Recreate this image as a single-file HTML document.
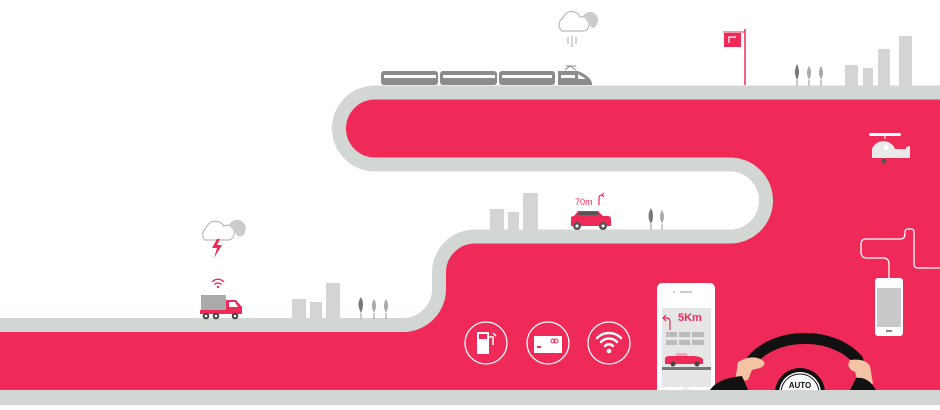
<!DOCTYPE html>
<html><head><meta charset="utf-8"><style>
html,body{margin:0;padding:0;background:#fff;}
svg{display:block;}
text{font-family:"Liberation Sans",sans-serif;}
</style></head><body>
<svg width="940" height="410" viewBox="0 0 940 410" xmlns="http://www.w3.org/2000/svg">
<rect x="0" y="0" width="940" height="392" fill="#ef2a58"/>
<path d="M-20,-20 H960 V92.5 H375 A36,36 0 0 0 375,164.5 H730 A36,36 0 0 1 730,236.5 H475 A36,36 0 0 0 439,272.5 V289 A36,36 0 0 1 403,325 H-20 Z" fill="#fff" stroke="#d3d7d3" stroke-width="14"/>

<!-- train -->
<g fill="#8c8c8e">
<rect x="381" y="71" width="57" height="14" rx="3"/>
<rect x="440" y="71" width="57" height="14" rx="3"/>
<rect x="499" y="71" width="56" height="14" rx="3"/>
<path d="M558,71 H578 Q590,76 592,83 V85 H558 Z"/>
<path d="M565,70 L570,66 L576,70 M566,66 H576" stroke="#8c8c8e" fill="none" stroke-width="1"/>
</g>
<g fill="#fff">
<rect x="384" y="75" width="52" height="3"/><rect x="443" y="75" width="52" height="3"/><rect x="502" y="75" width="50" height="3"/><rect x="561" y="75" width="14" height="3"/><path d="M578,74 L586,79 H578Z"/>
</g>
<!-- cloud top -->
<path d="M562,31 A8,8 0 0 1 563,18 A9,9 0 0 1 580,17 A7,7 0 0 1 589,24 A6,6 0 0 1 583,31 Z" fill="#fff" stroke="#bbb" stroke-width="1.2"/>
<path d="M583,16 A7,7 0 0 1 597,24 A5,5 0 0 1 592,28" fill="#ccc"/>
<g stroke="#bbb" stroke-width="1.2"><line x1="568" y1="37" x2="568" y2="44"/><line x1="572" y1="36" x2="572" y2="47"/><line x1="576" y1="37" x2="576" y2="44"/></g>
<!-- flag -->
<line x1="745" y1="29" x2="745" y2="85" stroke="#ef2a58" stroke-width="1.5"/>
<rect x="724" y="33" width="17" height="14" fill="#ef2a58"/>
<line x1="723" y1="32" x2="745" y2="32" stroke="#ef2a58" stroke-width="1"/>
<path d="M729,43 V37 H736" stroke="#fff" fill="none" stroke-width="1.2"/>
<!-- trees right top -->
<g><path d="M797,80 Q793,72 797,64 Q801,72 797,80Z" fill="#777"/><path d="M809,80 Q805,72 809,66 Q813,72 809,80Z" fill="#aaa"/><path d="M821,80 Q817,72 821,66 Q825,72 821,80Z" fill="#aaa"/>
<g stroke="#999" stroke-width="1"><line x1="797" y1="80" x2="797" y2="86"/><line x1="809" y1="80" x2="809" y2="86"/><line x1="821" y1="80" x2="821" y2="86"/></g></g>
<g fill="#d3d5d3"><rect x="845" y="65" width="13" height="21"/><rect x="863" y="68" width="10" height="18"/><rect x="878" y="49" width="12" height="37"/><rect x="899" y="36" width="13" height="50"/></g>
<!-- helicopter -->
<rect x="869" y="133" width="32" height="3" rx="1.5" fill="#fff"/>
<line x1="885" y1="135" x2="885" y2="139" stroke="#fff"/>
<path d="M872,158 V149 A12,11 0 0 1 895,149 H906 V147 L910,146 V158 Z" fill="#e9e9ea"/>
<rect x="884" y="145" width="4" height="5" fill="#fff"/>
<circle cx="884" cy="161" r="2.5" fill="#555"/>
<!-- 2nd road buildings -->
<g fill="#d3d5d3"><rect x="490" y="209" width="14" height="21"/><rect x="508" y="212" width="11" height="18"/><rect x="523" y="193" width="15" height="37"/></g>
<!-- car -->
<path d="M571,226 V218 Q571,216 574,216 L578,211 H598 L603,216 H608 Q611,216 611,219 V226 Z" fill="#ef2a58"/>
<path d="M579,212 H597 L599,215 H578Z" fill="#555"/>
<circle cx="577" cy="226" r="4" fill="#555"/><circle cx="577" cy="226" r="1.5" fill="#fff"/>
<circle cx="603" cy="226" r="4" fill="#555"/><circle cx="603" cy="226" r="1.5" fill="#fff"/>
<text x="575" y="205" font-size="9" fill="#ef2a58">70m</text>
<path d="M599,205 V198 Q599,195 602,195 L604,193 M602,195 L604,197" stroke="#ef2a58" fill="none" stroke-width="1.2"/>
<path d="M651,224 Q646,216 651,208 Q655,216 651,224Z" fill="#777"/><path d="M662,224 Q658,216 662,210 Q666,216 662,224Z" fill="#aaa"/>
<g stroke="#999"><line x1="651" y1="224" x2="651" y2="230"/><line x1="662" y1="224" x2="662" y2="230"/></g>
<!-- left cloud -->
<path d="M205,240 A8,8 0 0 1 206,228 A10,10 0 0 1 224,226 A7,7 0 0 1 234,234 A6,6 0 0 1 228,240 Z" fill="#fff" stroke="#bbb" stroke-width="1.2"/>
<path d="M229,225 A7,7 0 0 1 245,232 A5,5 0 0 1 238,236" fill="#ccc"/>
<path d="M217,239 L212,248 L217,248 L214,258 L222,245 L217,245 L220,239Z" fill="#ef2a58"/>
<!-- wifi small -->
<g stroke="#ef2a58" fill="none" stroke-width="1.3"><path d="M212,282 A8,8 0 0 1 224,282"/><path d="M214.5,284.5 A5,5 0 0 1 221.5,284.5"/></g>
<circle cx="218" cy="287" r="1.2" fill="#ef2a58"/>
<!-- truck -->
<rect x="201" y="295" width="25" height="15" fill="#aaa"/>
<path d="M226,300 H236 L242,307 V314 H226Z" fill="#ef2a58"/>
<path d="M229,302 H235 L238,307 H229Z" fill="#fff"/>
<rect x="200" y="310" width="42" height="4" fill="#ef2a58"/>
<g fill="#444"><circle cx="206" cy="316" r="3.3"/><circle cx="216" cy="316" r="3.3"/><circle cx="235" cy="316" r="3.3"/></g>
<g fill="#fff"><circle cx="206" cy="316" r="1.3"/><circle cx="216" cy="316" r="1.3"/><circle cx="235" cy="316" r="1.3"/></g>
<g fill="#d3d5d3"><rect x="292" y="299" width="14" height="20"/><rect x="310" y="302" width="12" height="17"/><rect x="326" y="283" width="14" height="36"/></g>
<path d="M361,313 Q356,304 361,297 Q365,304 361,313Z" fill="#777"/><path d="M374,313 Q370,305 374,299 Q378,305 374,313Z" fill="#aaa"/><path d="M386,313 Q382,305 386,299 Q390,305 386,313Z" fill="#aaa"/>
<g stroke="#999"><line x1="361" y1="313" x2="361" y2="319"/><line x1="374" y1="313" x2="374" y2="319"/><line x1="386" y1="313" x2="386" y2="319"/></g>
<!-- circles -->
<g fill="none" stroke="#fff" stroke-width="1.3"><circle cx="486" cy="343" r="21"/><circle cx="548" cy="343" r="21"/><circle cx="609" cy="343" r="21"/></g>
<rect x="477" y="332" width="12" height="22" fill="#fff"/><rect x="479" y="334" width="8" height="5" fill="#ef2a58"/>
<path d="M489,337 H493 V345 M493,333 L496,336" stroke="#fff" fill="none" stroke-width="1.5"/>
<rect x="534" y="336" width="28" height="17" fill="#fff"/><rect x="537" y="346" width="4" height="2" fill="#ef2a58"/>
<circle cx="553" cy="341" r="2" fill="none" stroke="#ef2a58"/><circle cx="556" cy="341" r="2" fill="none" stroke="#ef2a58"/>
<g stroke="#fff" fill="none" stroke-width="2.5" stroke-linecap="round"><path d="M597,338 A17,17 0 0 1 621,338"/><path d="M601,342 A11,11 0 0 1 617,342"/><path d="M605,346 A5.5,5.5 0 0 1 613,346"/></g>
<circle cx="609" cy="351" r="2.3" fill="#fff"/>
<!-- phone -->
<rect x="657" y="283" width="58" height="112" rx="5" fill="#fff"/>
<rect x="680" y="291" width="12" height="2" fill="#ccc"/><circle cx="674" cy="292" r="1" fill="#ccc"/>
<rect x="662" y="308" width="49" height="79" fill="#e6e6e6"/>
<path d="M666,315 L663,318 L666,321 M663,318 H667 Q670,318 670,322 V330" stroke="#ef2a58" fill="none" stroke-width="1.2"/>
<text x="678" y="321" font-size="11" font-weight="bold" fill="#ef2a58">5Km</text>
<g fill="#bbb"><rect x="666" y="332" width="11" height="5"/><rect x="679" y="332" width="11" height="5"/><rect x="692" y="332" width="12" height="5"/><rect x="666" y="340" width="11" height="5"/><rect x="679" y="340" width="11" height="5"/><rect x="692" y="340" width="12" height="5"/></g>
<path d="M665,358 Q666,356 670,356 H693 Q700,356 703,359 V364 H665Z" fill="#ef2a58"/>
<rect x="676" y="353" width="11" height="3" fill="#f6a7b8"/>
<circle cx="673" cy="364" r="2.5" fill="#444"/><circle cx="697" cy="364" r="2.5" fill="#444"/>
<rect x="662" y="367" width="49" height="3" fill="#777"/>
<circle cx="686" cy="390" r="3.5" fill="#eee"/>
<!-- steering -->
<path d="M752,360 A62,45 0 0 1 858,360" stroke="#111" stroke-width="11" fill="none" stroke-linecap="round"/>
<circle cx="800" cy="393" r="25" fill="#111"/><circle cx="800" cy="393" r="21" fill="#fff"/><circle cx="800" cy="393" r="19" fill="none" stroke="#111" stroke-width="1"/>
<text x="800" y="388" font-size="8" font-weight="bold" fill="#111" text-anchor="middle">AUTO</text>
<path d="M738,362 Q752,354 762,360 Q768,364 760,368 L752,370 L748,380 L735,382Z" fill="#f4c3a3"/>
<path d="M850,360 Q865,358 870,366 L873,384 L858,382 L855,372 Q845,368 850,360Z" fill="#f4c3a3"/>
<path d="M710,390 Q718,378 742,376 L748,390Z" fill="#111"/>
<path d="M850,390 L856,378 Q868,376 876,390Z" fill="#111"/>
<!-- right phone + cable -->
<path d="M889,278 V264 Q889,258 883,258 H867 Q861,258 861,252 V244 Q861,239 866,239 H900 Q905,239 905,234 V232 Q905,229 908,229 H911 Q914,229 914,232 V264 Q914,268 918,268 H940" stroke="#fff" stroke-width="1.3" fill="none"/>
<rect x="875" y="278" width="28" height="58" rx="3" fill="#fff"/>
<rect x="877" y="288" width="24" height="39" fill="#c9c9cb"/>
<rect x="886" y="330" width="6" height="2" fill="#888"/>
<!-- bottom band drawn last -->
<rect x="0" y="390" width="940" height="15" fill="#d3d7d3"/>
<rect x="0" y="405" width="940" height="5" fill="#fff"/>
</svg>
</body></html>
